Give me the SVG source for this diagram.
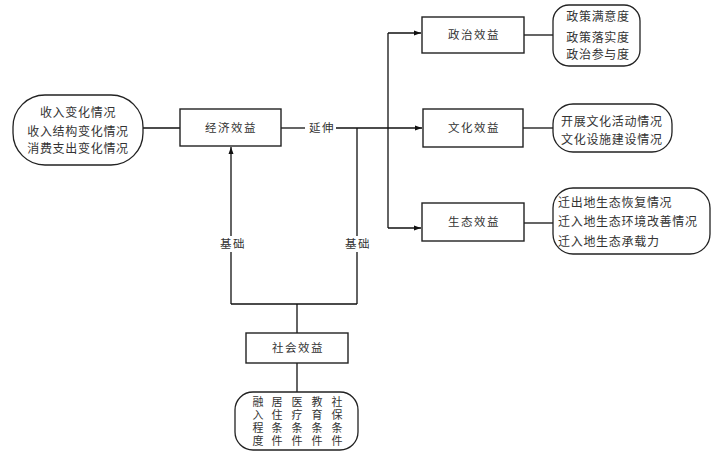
<svg xmlns="http://www.w3.org/2000/svg" width="721" height="458" viewBox="0 0 721 458">
<defs>
<marker id="arr" markerWidth="8" markerHeight="8" refX="7" refY="4" orient="auto" markerUnits="userSpaceOnUse">
<path d="M0,1.5 L7,4 L0,6.5 Z" fill="#111"/>
</marker>
<style>
.box{fill:#fff;stroke:#222;stroke-width:1.4}
.rbox{fill:#fff;stroke:#222;stroke-width:1.3}
.t{font-family:"Noto Sans CJK SC","Noto Sans",sans-serif;font-size:11.5px;fill:#333;letter-spacing:1.5px}
.d{font-family:"Noto Sans CJK SC","Noto Sans",sans-serif;font-size:12px;fill:#333;letter-spacing:0.7px}
.v{font-family:"Noto Sans CJK SC","Noto Sans",sans-serif;font-size:11px;fill:#333;letter-spacing:2.2px;writing-mode:vertical-rl}
.c{text-anchor:middle}
.ln{fill:none;stroke:#111;stroke-width:1.3}
</style>
</defs>
<rect width="721" height="458" fill="#fff"/>
<g id="connectors">
<line class="ln" x1="143" y1="128" x2="180" y2="128"/>
<line class="ln" x1="281" y1="128" x2="305" y2="128"/>
<line class="ln" x1="336" y1="128" x2="388" y2="128"/>
<line class="ln" x1="388" y1="33" x2="388" y2="228"/>
<line class="ln" x1="388" y1="33" x2="421" y2="33" marker-end="url(#arr)"/>
<line class="ln" x1="388" y1="128" x2="422" y2="128" marker-end="url(#arr)"/>
<line class="ln" x1="388" y1="228" x2="421" y2="228" marker-end="url(#arr)"/>
<line class="ln" x1="524" y1="35" x2="553" y2="35"/>
<line class="ln" x1="523" y1="128" x2="553" y2="128"/>
<line class="ln" x1="524" y1="223" x2="553" y2="223"/>
<path class="ln" d="M297,333 V304 M231,304 H357 M357,304 V128"/>
<line class="ln" x1="231" y1="304" x2="231" y2="147" marker-end="url(#arr)"/>
<line class="ln" x1="297" y1="363" x2="297" y2="392"/>
<text class="t c" x="322" y="132">延伸</text>
<rect x="218" y="236" width="28" height="16" fill="#fff"/>
<text class="t c" x="233" y="248">基础</text>
<rect x="343" y="236" width="28" height="16" fill="#fff"/>
<text class="t c" x="358" y="248">基础</text>
</g>
<g id="income">
<rect class="rbox" x="13" y="95" width="130" height="70" rx="32"/>
<text class="d c" x="78" y="117">收入变化情况</text>
<text class="d c" x="78" y="136">收入结构变化情况</text>
<text class="d c" x="78" y="153">消费支出变化情况</text>
</g>
<g id="economic">
<rect class="box" x="180" y="109" width="101" height="37"/>
<text class="t c" x="231" y="132">经济效益</text>
</g>
<g id="political">
<rect class="box" x="422" y="17" width="102" height="36"/>
<text class="t c" x="474" y="39">政治效益</text>
</g>
<g id="political-detail">
<rect class="rbox" x="553" y="5" width="87" height="61" rx="16"/>
<text class="d c" x="598" y="21">政策满意度</text>
<text class="d c" x="598" y="42">政策落实度</text>
<text class="d c" x="598" y="59">政治参与度</text>
</g>
<g id="cultural">
<rect class="box" x="423" y="109" width="100" height="38"/>
<text class="t c" x="474" y="132">文化效益</text>
</g>
<g id="cultural-detail">
<rect class="rbox" x="553" y="104" width="119" height="48" rx="20"/>
<text class="d" x="561" y="126">开展文化活动情况</text>
<text class="d" x="561" y="144">文化设施建设情况</text>
</g>
<g id="ecological">
<rect class="box" x="422" y="203" width="102" height="38"/>
<text class="t c" x="474" y="226">生态效益</text>
</g>
<g id="ecological-detail">
<rect class="rbox" x="553" y="188" width="157" height="66" rx="20"/>
<text class="d" x="558" y="207">迁出地生态恢复情况</text>
<text class="d" x="558" y="226">迁入地生态环境改善情况</text>
<text class="d" x="558" y="246">迁入地生态承载力</text>
</g>
<g id="social">
<rect class="box" x="246" y="333" width="102" height="30"/>
<text class="t c" x="298" y="352">社会效益</text>
</g>
<g id="social-detail">
<rect class="rbox" x="235" y="392" width="123" height="58" rx="18"/>
<text class="v" x="258" y="396">融入程度</text>
<text class="v" x="277" y="396">居住条件</text>
<text class="v" x="297" y="396">医疗条件</text>
<text class="v" x="317" y="396">教育条件</text>
<text class="v" x="337" y="396">社保条件</text>
</g>
</svg>
